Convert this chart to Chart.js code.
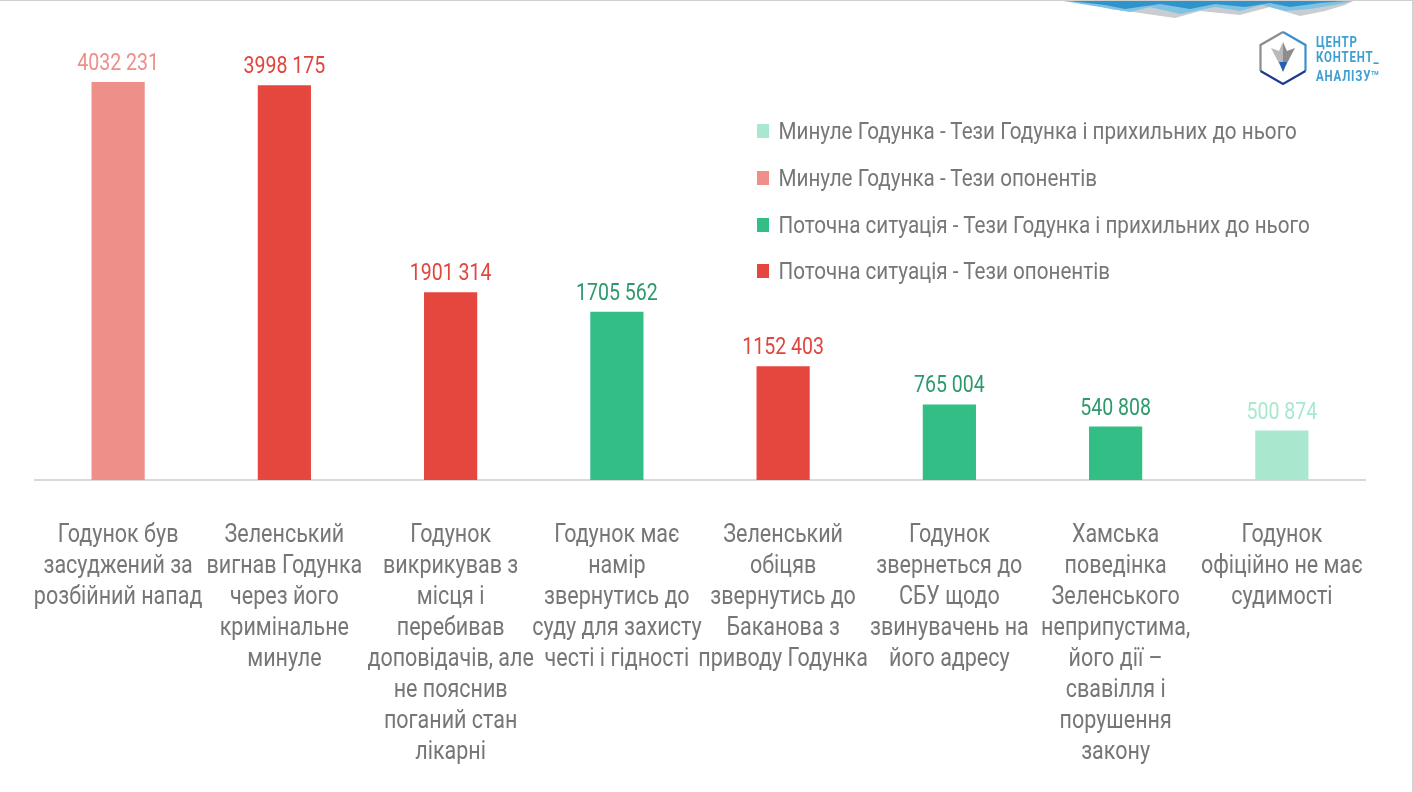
<!DOCTYPE html>
<html lang="uk">
<head>
<meta charset="utf-8">
<title>Годунок — тези</title>
<script src="https://cdn.jsdelivr.net/npm/chart.js@4.4.1/dist/chart.umd.min.js"></script>
<style>
    html, body { margin: 0; padding: 0; background: #fff; }
    #wrap {
        position: relative;
        width: 1413px;
        height: 792px;
        overflow: hidden;
        box-sizing: border-box;
        border-top: 1px solid #cfcfcf;
        border-right: 1px solid #cfcfcf;
    }
    #chart { position: absolute; left: 0; top: 0; }
    #legend {
        position: absolute;
        left: 757px;
        top: 107px;
        font-family: 'Roboto', sans-serif;
        font-size: 24px;
        color: #777;
        transform: scaleX(0.86);
        transform-origin: left top;
        white-space: nowrap;
    }
    #legend .item { height: 46.7px; display: flex; align-items: center; }
    #legend .box { width: 14px; height: 14px; margin-right: 11px; flex: none; }
    #logo-text {
        position: absolute;
        left: 1316px;
        top: 34px;
        font-family: 'Roboto', sans-serif;
        font-weight: bold;
        font-size: 14px;
        line-height: 15px;
        letter-spacing: 1px;
        color: #3d9fd2;
        transform: scaleX(0.82);
        transform-origin: left top;
        white-space: nowrap;
    }
    #logo-text sup { font-size: 6px; letter-spacing: 0; }
    #deco { position: absolute; left: 0; top: 0; }
</style>
</head>
<body>
<div id="wrap">
    <canvas id="chart" width="1413" height="792"></canvas>
    <div id="legend"></div>
    <svg id="deco" width="1413" height="100">
        <!-- top wave -->
        <polygon points="1080,0 1110,8 1140,12 1175,17 1200,10 1240,14 1270,6 1300,15 1325,10 1345,4 1353,0" fill="#c9cdd1"/>
        <polygon points="1063,0 1100,6 1130,11 1150,6 1180,13 1215,6 1240,10 1262,4 1285,10 1310,8 1340,3 1353,0" fill="#7fc2e2"/>
        <polygon points="1070,0 1105,4 1125,8 1160,3 1190,8 1215,3 1245,6 1270,2 1290,6 1320,2 1345,0" fill="#2f93cc"/>
        <!-- logo hexagon -->
        <polyline points="1283,31 1260.5,44 1260.5,70" fill="none" stroke="#8c8c8c" stroke-width="2.2"/>
        <polyline points="1283,31 1305.5,44 1305.5,70" fill="none" stroke="#3b8fcf" stroke-width="2.2"/>
        <polyline points="1260.5,70 1283,83 1305.5,70" fill="none" stroke="#1d3b8e" stroke-width="2.2"/>
        <polygon points="1271,47 1279,50 1283,41 1283,70" fill="#b9b9b9"/>
        <polygon points="1295,47 1287,50 1283,41 1283,70" fill="#8d8d8d"/>
        <polygon points="1279,61 1287,61 1283,71" fill="#1f63b3"/>
    </svg>
    <div id="logo-text">ЦЕНТР<br>КОНТЕНТ_<br>АНАЛІЗУ<sup>ТМ</sup></div>
</div>
<script>
// Categories (one bar each)
const categories = [
    ["Годунок був", "засуджений за", "розбійний напад"],
    ["Зеленський", "вигнав Годунка", "через його", "кримінальне", "минуле"],
    ["Годунок", "викрикував з", "місця і", "перебивав", "доповідачів, але", "не пояснив", "поганий стан", "лікарні"],
    ["Годунок має", "намір", "звернутись до", "суду для захисту", "честі і гідності"],
    ["Зеленський", "обіцяв", "звернутись до", "Баканова з", "приводу Годунка"],
    ["Годунок", "звернеться до", "СБУ щодо", "звинувачень на", "його адресу"],
    ["Хамська", "поведінка", "Зеленського", "неприпустима,", "його дії –", "свавілля і", "порушення", "закону"],
    ["Годунок", "офіційно не має", "судимості"]
];

const values = [4032231, 3998175, 1901314, 1705562, 1152403, 765004, 540808, 500874];

// which series each bar belongs to (index into seriesNames)
const barSeries = [1, 3, 3, 2, 3, 2, 2, 0];

const seriesNames = [
    "Минуле Годунка - Тези Годунка і прихильних до нього",
    "Минуле Годунка - Тези опонентів",
    "Поточна ситуація - Тези Годунка і прихильних до нього",
    "Поточна ситуація - Тези опонентів"
];
const seriesColors = ["#a9e8cf", "#ee8f89", "#33be86", "#e5463e"];
const labelColors = ["#a9e8cf", "#ee8f89", "#2e9a6c", "#e0463d"];

const FONT = "'Roboto', sans-serif";

// Build one dataset per series; empty slots are null so stacked bars stay centred
const datasets = seriesNames.map((name, s) => ({
    label: name,
    data: values.map((v, i) => barSeries[i] === s ? v : null),
    backgroundColor: seriesColors[s],
    barPercentage: 0.32,
    categoryPercentage: 1
}));

function formatValue(v) {
    const str = String(v);
    return str.slice(0, -3) + " " + str.slice(-3);
}

// draw text squeezed horizontally (the original uses a condensed face)
function narrowText(ctx, text, x, y, sx) {
    ctx.save();
    ctx.translate(x, y);
    ctx.scale(sx, 1);
    ctx.fillText(text, 0, 0);
    ctx.restore();
}

// Value labels above bars
const valueLabels = {
    id: 'valueLabels',
    afterDatasetsDraw(chart) {
        const ctx = chart.ctx;
        ctx.save();
        ctx.font = "23px " + FONT;
        ctx.textAlign = "center";
        ctx.textBaseline = "alphabetic";
        chart.data.datasets.forEach((ds, s) => {
            const meta = chart.getDatasetMeta(s);
            meta.data.forEach((bar, i) => {
                if (ds.data[i] == null) return;
                ctx.fillStyle = labelColors[s];
                narrowText(ctx, formatValue(ds.data[i]), bar.x, bar.y - 12, 0.85);
            });
        });
        ctx.restore();
    }
};

// Category labels under the axis, placed with the x scale
const categoryLabels = {
    id: 'categoryLabels',
    afterDraw(chart) {
        const ctx = chart.ctx;
        const xScale = chart.scales.x;
        const base = chart.chartArea.bottom;
        ctx.save();
        ctx.font = "25px " + FONT;
        ctx.fillStyle = "#767676";
        ctx.textAlign = "center";
        ctx.textBaseline = "alphabetic";
        chart.data.labels.forEach((lines, i) => {
            const x = xScale.getPixelForTick(i);
            lines.forEach((line, k) => {
                narrowText(ctx, line, x, base + 62 + k * 31, 0.86);
            });
        });
        ctx.restore();
    }
};

// HTML legend
const legendEl = document.getElementById('legend');
legendEl.innerHTML = seriesNames.map((name, s) =>
    `<div class="item"><span class="box" style="background:${seriesColors[s]}"></span>${name}</div>`
).join('');

new Chart(document.getElementById('chart'), {
    type: 'bar',
    data: {
        labels: categories,
        datasets: datasets
    },
    options: {
        responsive: false,
        animation: false,
        layout: {
            padding: { top: 20, left: 35, right: 48, bottom: 0 }
        },
        plugins: {
            legend: { display: false },
            tooltip: { enabled: false }
        },
        scales: {
            x: {
                stacked: true,
                grid: { display: false },
                border: { color: '#d9d9d9', width: 2 },
                ticks: { display: false },
                afterFit(scale) {
                    scale.height = 313;
                }
            },
            y: {
                stacked: true,
                display: false,
                min: 0,
                max: 4650000
            }
        }
    },
    plugins: [valueLabels, categoryLabels]
});
</script>
</body>
</html>
